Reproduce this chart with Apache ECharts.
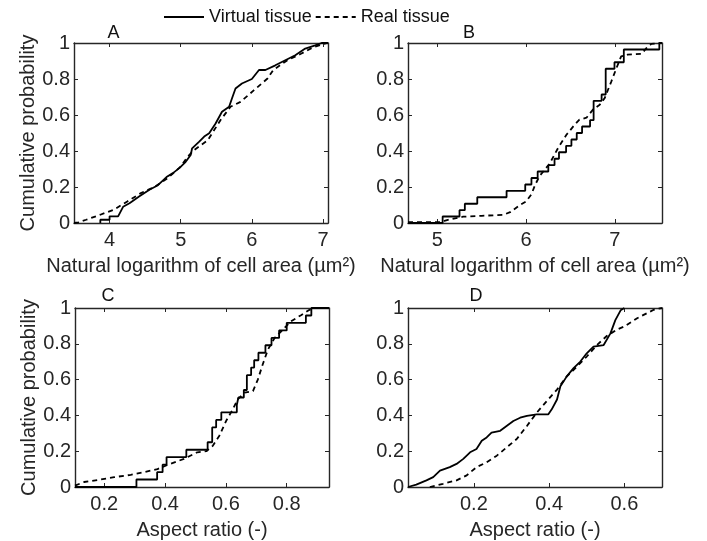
<!DOCTYPE html>
<html><head><meta charset="utf-8">
<script src="https://cdn.jsdelivr.net/npm/echarts@6/dist/echarts.min.js"></script>
<style>html,body{margin:0;padding:0;background:#fff}#c{width:707px;height:541px}</style>
</head><body><div id="c"></div>
<script>
// ---- data ----
const seriesNames = ['Virtual tissue', 'Real tissue'];
const panelLabels = ['A', 'B', 'C', 'D'];
const xAxisNames = ['Natural logarithm of cell area (µm²)', 'Natural logarithm of cell area (µm²)', 'Aspect ratio (-)', 'Aspect ratio (-)'];
const yAxisName = 'Cumulative probability';

const rangeA = [3.5, 7.07];
const rangeB = [4.67, 7.53];
const rangeC = [0.104, 0.939];
const rangeD = [0.025, 0.70];
const xTickStep = [1, 1, 0.2, 0.2];

// Panel A
const aVirtX = [3.87,3.87,4.0,4.0,4.12,4.19,4.28,4.42,4.56,4.68,4.80,4.89,4.98,5.07,5.14,5.16,5.26,5.33,5.40,5.49,5.58,5.68,5.72,5.77,5.86,6.00,6.10,6.19,6.33,6.47,6.61,6.75,6.89,6.98,7.07];
const aVirtY = [0,0.018,0.018,0.037,0.037,0.09,0.11,0.148,0.185,0.21,0.255,0.277,0.305,0.34,0.378,0.415,0.452,0.48,0.498,0.553,0.618,0.646,0.692,0.747,0.775,0.80,0.85,0.85,0.876,0.904,0.932,0.969,0.987,1.0,1.0];
const aRealX = [3.50,3.56,3.67,3.87,4.06,4.25,4.44,4.63,4.82,5.00,5.10,5.19,5.38,5.56,5.70,5.84,6.03,6.22,6.30,6.50,6.69,6.87,7.06];
const aRealY = [0,0.003,0.018,0.046,0.074,0.12,0.166,0.20,0.25,0.314,0.37,0.406,0.46,0.572,0.646,0.673,0.738,0.803,0.85,0.904,0.94,0.978,1.0];

// Panel B
const bVirtX = [4.67,5.06,5.25,5.31,5.45,5.78,5.99,6.06,6.13,6.25,6.32,6.37,6.45,6.51,6.57,6.63,6.72,6.76,6.76,6.76,6.85,6.896,6.896,6.896,6.896,6.995,7.10,7.10,7.50,7.53];
const bVirtY = [0,0.036,0.071,0.107,0.143,0.179,0.214,0.25,0.286,0.321,0.357,0.393,0.429,0.464,0.5,0.536,0.571,0.607,0.643,0.679,0.714,0.75,0.786,0.821,0.857,0.893,0.929,0.964,1.0,1.0];
const bRealX = [4.67,5.03,5.08,5.14,5.29,5.50,5.74,5.82,5.93,6.00,6.06,6.10,6.15,6.265,6.36,6.454,6.547,6.60,6.68,6.753,6.829,6.885,6.96,7.017,7.07,7.14,7.30,7.355,7.41,7.50];
const bRealY = [0.005,0.005,0.012,0.02,0.035,0.04,0.045,0.06,0.10,0.12,0.16,0.21,0.26,0.33,0.417,0.49,0.546,0.574,0.585,0.63,0.657,0.694,0.787,0.86,0.926,0.935,0.94,0.972,0.995,1.0];

// Panel C
const cVirtX = [0.104,0.306,0.374,0.392,0.405,0.47,0.54,0.555,0.555,0.568,0.585,0.636,0.641,0.659,0.669,0.669,0.683,0.693,0.707,0.73,0.75,0.775,0.80,0.863,0.881,0.939];
const cVirtY = [0,0.042,0.083,0.125,0.167,0.208,0.25,0.292,0.333,0.375,0.417,0.458,0.5,0.542,0.583,0.625,0.667,0.708,0.75,0.792,0.833,0.875,0.917,0.958,1.0,1.0];
const cRealX = [0.104,0.11,0.134,0.189,0.233,0.287,0.331,0.375,0.418,0.462,0.506,0.536,0.557,0.579,0.601,0.623,0.639,0.661,0.689,0.705,0.721,0.738,0.76,0.782,0.814,0.847,0.875,0.89];
const cRealY = [0.008,0.013,0.028,0.042,0.055,0.068,0.083,0.10,0.13,0.157,0.194,0.20,0.23,0.288,0.37,0.435,0.49,0.527,0.536,0.60,0.684,0.767,0.832,0.87,0.925,0.96,0.99,1.0];

// Panel D
const dVirtX = [0.025,0.03,0.047,0.074,0.092,0.11,0.136,0.154,0.172,0.19,0.207,0.221,0.234,0.247,0.27,0.287,0.305,0.323,0.341,0.367,0.398,0.407,0.421,0.43,0.447,0.465,0.483,0.50,0.518,0.545,0.563,0.576,0.59,0.60];
const dVirtY = [0,0.003,0.013,0.037,0.055,0.092,0.111,0.129,0.157,0.194,0.212,0.258,0.277,0.304,0.314,0.341,0.369,0.387,0.397,0.406,0.406,0.434,0.489,0.563,0.618,0.664,0.701,0.747,0.784,0.793,0.858,0.932,0.987,1.0];
const dRealX = [0.083,0.118,0.154,0.181,0.207,0.234,0.261,0.287,0.314,0.341,0.367,0.394,0.421,0.447,0.474,0.50,0.527,0.554,0.581,0.60,0.634,0.678,0.70];
const dRealY = [0,0.018,0.037,0.065,0.111,0.138,0.175,0.221,0.268,0.341,0.415,0.48,0.544,0.618,0.673,0.729,0.793,0.845,0.88,0.897,0.943,0.99,1.0];

// ---- chart ----
const FONT = '"Liberation Sans", Arial, Helvetica, sans-serif';
const AX = '#262626';
const zip = (xs, ys) => xs.map((x, i) => [x, ys[i]]);

const ranges = [rangeA, rangeB, rangeC, rangeD];
const virt = [zip(aVirtX, aVirtY), zip(bVirtX, bVirtY), zip(cVirtX, cVirtY), zip(dVirtX, dVirtY)];
const real = [zip(aRealX, aRealY), zip(bRealX, bRealY), zip(cRealX, cRealY), zip(dRealX, dRealY)];
const stepVirt = [false, 'end', 'end', false];

const grids = [
  {left: 74, top: 43, width: 254, height: 180},
  {left: 408, top: 43, width: 254, height: 180},
  {left: 75, top: 308, width: 254, height: 180},
  {left: 408, top: 308, width: 254, height: 180}
];
const labelPos = [[113.5, 33.5], [469, 33.5], [108, 296.5], [476, 296.5]];

const xAxes = [], yAxes = [], series = [];
for (let i = 0; i < 4; i++) {
  const common = {
    gridIndex: i, type: 'value', min: ranges[i][0], max: ranges[i][1],
    minInterval: xTickStep[i], maxInterval: xTickStep[i], splitNumber: 4,
    axisLine: {show: true, onZero: false, lineStyle: {color: AX, width: 1.4}},
    axisTick: {show: true, inside: true, length: 4, lineStyle: {color: AX, width: 1}},
    splitLine: {show: false}
  };
  xAxes.push(Object.assign({}, common, {
    position: 'bottom',
    axisLabel: {show: true, showMinLabel: false, showMaxLabel: false, margin: 7, fontSize: 20, color: AX, fontFamily: FONT},
    name: xAxisNames[i], nameLocation: 'middle', nameGap: 33,
    nameTextStyle: {fontSize: 20, color: AX, fontFamily: FONT}
  }));
  const ycommon = {
    gridIndex: i, type: 'value', min: 0, max: 1, interval: 0.2,
    axisLine: {show: true, onZero: false, lineStyle: {color: AX, width: 1.4}},
    axisTick: {show: true, inside: true, length: 4, lineStyle: {color: AX, width: 1}},
    splitLine: {show: false}
  };
  yAxes.push(Object.assign({}, ycommon, {
    position: 'left',
    axisLabel: {show: true, margin: 4, fontSize: 20, color: AX, fontFamily: FONT},
    name: (i % 2 === 0) ? yAxisName : '', nameLocation: 'middle', nameGap: 36,
    nameTextStyle: {fontSize: 20, color: AX, fontFamily: FONT}
  }));
  series.push({
    name: seriesNames[0], type: 'line', xAxisIndex: i, yAxisIndex: i,
    data: virt[i], step: stepVirt[i], showSymbol: false, symbol: 'none',
    lineStyle: {color: '#000', width: 1.8, type: 'solid'}, itemStyle: {color: '#000'},
    animation: false, z: 3
  });
  series.push({
    name: seriesNames[1], type: 'line', xAxisIndex: i, yAxisIndex: i,
    data: real[i], showSymbol: false, symbol: 'none',
    lineStyle: {color: '#000', width: 1.8, type: [5, 4]}, itemStyle: {color: '#000'},
    animation: false, z: 2
  });
}
// top and right frame axes (ticks only)
for (let i = 0; i < 4; i++) {
  xAxes.push({
    gridIndex: i, type: 'value', position: 'top', min: ranges[i][0], max: ranges[i][1],
    minInterval: xTickStep[i], maxInterval: xTickStep[i], splitNumber: 4,
    axisLine: {show: true, onZero: false, lineStyle: {color: AX, width: 1.4}},
    axisTick: {show: true, inside: true, length: 4, lineStyle: {color: AX, width: 1}},
    axisLabel: {show: false}, splitLine: {show: false}
  });
  yAxes.push({
    gridIndex: i, type: 'value', position: 'right', min: 0, max: 1, interval: 0.2,
    axisLine: {show: true, onZero: false, lineStyle: {color: AX, width: 1.4}},
    axisTick: {show: true, inside: true, length: 4, lineStyle: {color: AX, width: 1}},
    axisLabel: {show: false}, splitLine: {show: false}
  });
}

const chart = echarts.init(document.getElementById('c'), null, {renderer: 'canvas'});
chart.setOption({
  animation: false,
  backgroundColor: '#fff',
  textStyle: {fontFamily: FONT},
  grid: grids,
  xAxis: xAxes,
  yAxis: yAxes,
  legend: {
    data: seriesNames, left: 163, top: 8, padding: 0, itemWidth: 40, itemHeight: 12, itemGap: 3,
    itemStyle: {opacity: 0},
    textStyle: {fontSize: 18, color: '#111', fontFamily: FONT}
  },
  graphic: panelLabels.map((t, i) => ({
    type: 'text', x: labelPos[i][0], y: labelPos[i][1],
    style: {text: t, fontSize: 18, fontFamily: FONT, fill: '#111', textAlign: 'center', textVerticalAlign: 'middle'}
  })),
  series: series
});
</script></body></html>
